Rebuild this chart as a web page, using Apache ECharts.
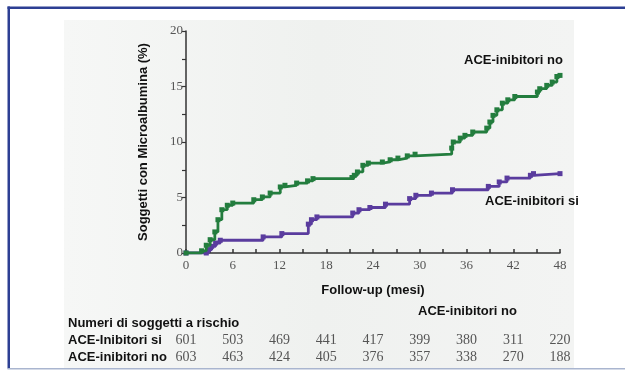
<!DOCTYPE html>
<html><head><meta charset="utf-8">
<script src="https://cdn.jsdelivr.net/npm/echarts@6/dist/echarts.min.js"></script>
<style>html,body{margin:0;padding:0;background:#fff}#c{width:625px;height:378px}</style>
</head><body><div id="c"></div>
<script>
// Follow-up months, labelled ticks
const xTicks = [0, 6, 12, 18, 24, 30, 36, 42, 48];
// Cumulative incidence (%) step points [month, %]
const aceNo = [[0,0],[2.0,0.2],[2.6,0.7],[3.1,1.2],[3.7,1.9],[4.1,3.0],[4.6,3.9],[5.3,4.3],[6.0,4.5],[8.7,4.8],[9.8,5.05],[10.8,5.4],[12.1,5.95],[12.7,6.1],[14.2,6.3],[15.6,6.5],[16.3,6.7],[21.3,6.8],[21.6,7.0],[22.0,7.3],[22.7,7.9],[23.4,8.1],[25.2,8.2],[26.2,8.4],[27.2,8.55],[28.4,8.75],[29.4,8.9],[34.1,9.45],[34.3,10.0],[35.2,10.35],[35.8,10.6],[36.8,10.9],[38.6,11.25],[39.0,11.8],[39.4,12.4],[39.9,12.9],[40.6,13.5],[41.3,13.8],[42.2,14.1],[45.1,14.5],[45.4,14.8],[46.3,15.1],[47.0,15.4],[47.6,15.9],[48,16.0]];
const aceSi = [[0,0],[2.6,0],[2.9,0.3],[3.3,0.6],[3.8,0.9],[4.4,1.15],[9.9,1.45],[12.3,1.75],[15.7,2.6],[16.1,3.0],[16.8,3.25],[21.4,3.6],[22.2,3.9],[23.6,4.1],[25.6,4.4],[28.7,4.9],[29.5,5.2],[31.5,5.4],[34.2,5.7],[38.8,6.0],[40.2,6.4],[41.2,6.75],[44.2,7.0],[44.6,7.15],[48,7.15]];
// Numbers at risk
const riskSi = [601, 503, 469, 441, 417, 399, 380, 311, 220];
const riskNo = [603, 463, 424, 405, 376, 357, 338, 270, 188];

const green = '#237d3e', purple = '#5a3c9e';
const boldFont = 'Liberation Sans';
const numFont = 'Liberation Serif';

const chart = echarts.init(document.getElementById('c'), null, {renderer:'canvas'});
const option = {
  animation:false,
  backgroundColor:'#fff',
  grid:{left:186, right:65, top:31, bottom:125, containLabel:false},
  xAxis:{type:'value', min:0, max:48, interval:3,
    name:'Follow-up (mesi)', nameLocation:'middle', nameGap:31,
    nameTextStyle:{fontFamily:boldFont, fontWeight:'bold', fontSize:13, color:'#111'},
    axisLine:{lineStyle:{color:'#333', width:1.5}},
    axisTick:{inside:true, length:4, lineStyle:{color:'#333', width:1.5}},
    splitLine:{show:false},
    axisLabel:{margin:6, color:'#555', fontFamily:numFont, fontSize:13,
      formatter:v=> xTicks.includes(v) ? String(v) : ''}
  },
  yAxis:{type:'value', min:0, max:20, interval:2.5,
    name:'Soggetti con Microalbumina (%)', nameLocation:'middle', nameGap:36,
    nameTextStyle:{fontFamily:boldFont, fontWeight:'bold', fontSize:13, color:'#111'},
    axisLine:{show:true, lineStyle:{color:'#333', width:1.5}},
    axisTick:{show:true, length:4, lineStyle:{color:'#333', width:1.2}},
    splitLine:{show:false},
    axisLabel:{margin:3, color:'#555', fontFamily:numFont, fontSize:13,
      formatter:v=> (v%5===0) ? String(v) : ''}
  },
  series:[
    {type:'line', name:'ACE-inibitori no', data:aceNo, step:'end', symbol:'rect', symbolSize:5,
      showSymbol:true, lineStyle:{color:green, width:2.8}, itemStyle:{color:green}, z:3},
    {type:'line', name:'ACE-inibitori si', data:aceSi, step:'end', symbol:'rect', symbolSize:5,
      showSymbol:true, lineStyle:{color:purple, width:2.8}, itemStyle:{color:purple}, z:2}
  ]
};
chart.setOption(option);

const g = [];
// photo background
g.push({type:'rect', shape:{x:64, y:20, width:510, height:348}, z:-10, silent:true,
  style:{fill:new echarts.graphic.LinearGradient(0,0,1,0,[{offset:0,color:'#f6f7f6'},{offset:0.5,color:'#eff1ef'},{offset:1,color:'#f3f4f3'}])}});
// frame
g.push({type:'rect', shape:{x:7.5, y:6.5, width:620, height:2.5}, style:{fill:'#2c3f93'}, silent:true});
g.push({type:'rect', shape:{x:7.5, y:6.5, width:2.5, height:362}, style:{fill:'#2c3f93'}, silent:true});
g.push({type:'rect', shape:{x:7.5, y:368, width:620, height:1.5}, style:{fill:'#a9b5cf'}, silent:true});

const txt = (x,y,t,opt={}) => g.push({type:'text', x:x, y:y, silent:true, z:10,
  style:Object.assign({text:t, fontFamily:boldFont, fontWeight:'bold', fontSize:13, fill:'#111', textVerticalAlign:'middle'}, opt)});
txt(464, 60, 'ACE-inibitori no');
txt(485, 201, 'ACE-inibitori si');
txt(418, 311, 'ACE-inibitori no');
txt(68, 323, 'Numeri di soggetti a rischio');
txt(68, 340, 'ACE-Inibitori si');
txt(68, 357, 'ACE-inibitori no');
xTicks.forEach((t,i)=>{
  const px = chart.convertToPixel({xAxisIndex:0}, t);
  const o = {fontFamily:numFont, fontWeight:'normal', fontSize:14, fill:'#555', textAlign:'center'};
  txt(px, 340, String(riskSi[i]), o);
  txt(px, 357, String(riskNo[i]), o);
});
chart.setOption({graphic:g});
</script></body></html>
